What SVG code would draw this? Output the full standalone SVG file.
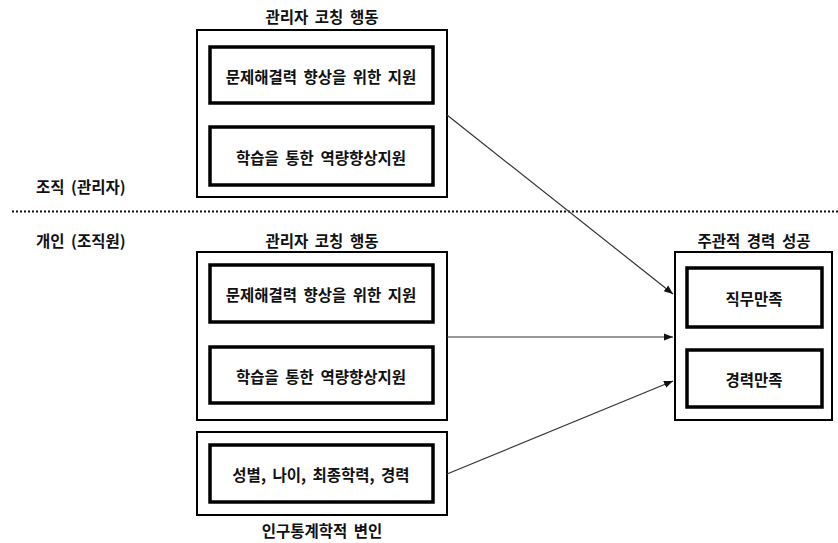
<svg xmlns="http://www.w3.org/2000/svg" width="838" height="543" viewBox="0 0 838 543">
  <style>
    text { font-family: "Noto Sans CJK KR", "Noto Sans", sans-serif; font-weight: bold; font-size: 15.5px; word-spacing: 3px; fill: #111; }
    .mid { text-anchor: middle; dominant-baseline: central; }
    .outer { fill: #fff; stroke: #000; stroke-width: 2; }
    .inner { fill: #fff; stroke: #000; stroke-width: 3.5; }
    .link { stroke: #333; stroke-width: 1.2; fill: none; marker-end: url(#arrow); }
  </style>
  <defs>
    <marker id="arrow" viewBox="0 0 10 10" refX="10" refY="5" markerWidth="9" markerHeight="9" markerUnits="userSpaceOnUse" orient="auto">
      <path d="M0,1 L10,5 L0,9 z" fill="#111"/>
    </marker>
  </defs>
  <rect width="838" height="543" fill="#fff"/>

  <!-- level labels and divider -->
  <text x="36" y="186" dominant-baseline="central">조직 (관리자)</text>
  <line x1="12" y1="211.5" x2="838" y2="211.5" stroke="#111" stroke-width="2" stroke-dasharray="2,2"/>
  <text x="36" y="240" dominant-baseline="central">개인 (조직원)</text>

  <!-- organisation-level coaching -->
  <g id="org-coaching">
    <text class="mid" x="322" y="16">관리자 코칭 행동</text>
    <rect class="outer" x="197" y="30" width="250" height="167"/>
    <rect class="inner" x="210" y="47" width="223" height="56"/>
    <text class="mid" x="321" y="76">문제해결력 향상을 위한 지원</text>
    <rect class="inner" x="210" y="127" width="223" height="58"/>
    <text class="mid" x="321" y="157">학습을 통한 역량향상지원</text>
  </g>

  <!-- individual-level coaching -->
  <g id="ind-coaching">
    <text class="mid" x="322" y="240">관리자 코칭 행동</text>
    <rect class="outer" x="197" y="252" width="250" height="168"/>
    <rect class="inner" x="210" y="265" width="223" height="57"/>
    <text class="mid" x="321" y="294">문제해결력 향상을 위한 지원</text>
    <rect class="inner" x="210" y="347" width="223" height="56"/>
    <text class="mid" x="321" y="376">학습을 통한 역량향상지원</text>
  </g>

  <!-- demographic variables -->
  <g id="demographics">
    <rect class="outer" x="197" y="432" width="250" height="83"/>
    <rect class="inner" x="210" y="445" width="223" height="57"/>
    <text class="mid" x="321" y="474">성별, 나이, 최종학력, 경력</text>
    <text class="mid" x="322" y="530">인구통계학적 변인</text>
  </g>

  <!-- subjective career success -->
  <g id="career-success">
    <text class="mid" x="754" y="240">주관적 경력 성공</text>
    <rect class="outer" x="675" y="252" width="157" height="168"/>
    <rect class="inner" x="687" y="268" width="135" height="59"/>
    <text class="mid" x="754" y="298">직무만족</text>
    <rect class="inner" x="687" y="350" width="135" height="57"/>
    <text class="mid" x="754" y="379">경력만족</text>
  </g>

  <g id="connectors">
    <line class="link" x1="447" y1="115" x2="673" y2="294"/>
    <line class="link" x1="447" y1="337" x2="673" y2="337"/>
    <line class="link" x1="447" y1="474" x2="673" y2="381"/>
  </g>
</svg>
